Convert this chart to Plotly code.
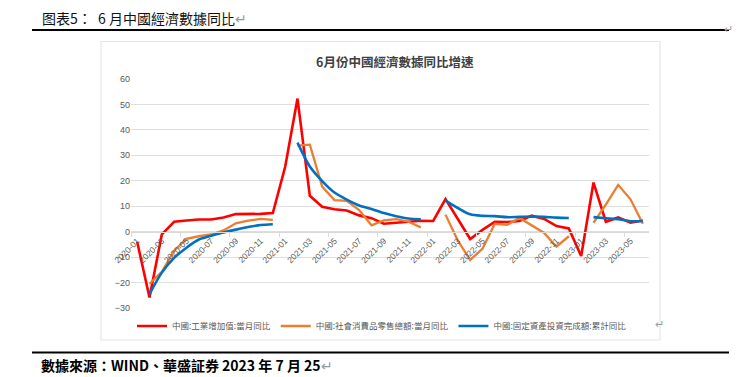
import plotly.graph_objects as go

# ---------------- data ----------------
months = [f"{y}-{m:02d}" for y in (2020, 2021, 2022) for m in range(1, 13)] + \
         [f"2023-{m:02d}" for m in range(1, 7)]

industrial = [-4.0, -25.9, -1.1, 3.9, 4.4, 4.8, 4.8, 5.6, 6.9, 6.9, 7.0, 7.3,
              25.5, 52.3, 14.1, 9.8, 8.8, 8.3, 6.4, 5.3, 3.1, 3.5, 3.8, 4.3,
              4.2, 12.8, 5.0, -2.9, 0.7, 3.9, 3.8, 4.2, 6.3, 5.0, 2.2, 1.3,
              -9.6, 19.3, 3.9, 5.6, 3.5, 4.4]

retail = [None, -20.5, -15.8, -7.5, -2.8, -1.8, -1.1, 0.5, 3.3, 4.3, 5.0, 4.6,
          None, 33.8, 34.2, 17.7, 12.4, 12.1, 8.5, 2.5, 4.4, 4.9, 3.9, 1.7,
          None, 6.7, -3.5, -11.1, -6.7, 3.1, 2.7, 5.4, 2.5, -0.5, -5.9, -1.8,
          None, 3.5, 10.6, 18.4, 12.7, 3.1]

fai = [None, -24.5, -16.1, -10.3, -6.3, -3.1, -1.6, -0.3, 0.8, 1.8, 2.6, 2.9,
       None, 35.0, 25.6, 19.9, 15.4, 12.6, 10.3, 8.9, 7.3, 6.1, 5.2, 4.9,
       None, 12.2, 9.3, 6.8, 6.2, 6.1, 5.7, 5.8, 5.9, 5.8, 5.5, 5.4,
       None, 5.7, 5.3, 4.9, 4.1, 4.2]

series_names = ["中國:工業增加值:當月同比",
                "中國:社會消費品零售總額:當月同比",
                "中國:固定資產投資完成額:累計同比"]
tick_labels = months[::2]
y_ticks = list(range(-30, 61, 10))

# category positions (index of each month on the category axis)
idx = list(range(len(months)))

# ---------------- layout helpers ----------------
W, H = 750, 377
L, R, T, B = 131, 649, 79, 308
PW, PH = R - L, B - T


def px(x):
    return (x - L) / PW


def py(y):
    return (B - y) / PH


CJK = "Noto Sans CJK TC"
GREY = "#595959"

fig = go.Figure()
fig.add_trace(go.Scatter(x=idx, y=industrial, name=series_names[0], mode="lines",
                         line=dict(color="#FF0000", width=2.6), connectgaps=False,
                         text=months, hovertemplate="%{text}: %{y}<extra></extra>"))
fig.add_trace(go.Scatter(x=idx, y=retail, name=series_names[1], mode="lines",
                         line=dict(color="#ED7D31", width=2.3), connectgaps=False,
                         text=months, hovertemplate="%{text}: %{y}<extra></extra>"))
fig.add_trace(go.Scatter(x=idx, y=fai, name=series_names[2], mode="lines",
                         line=dict(color="#0070C0", width=2.6, shape="spline", smoothing=0.8),
                         connectgaps=False,
                         text=months, hovertemplate="%{text}: %{y}<extra></extra>"))

shapes = [
    # chart frame
    dict(type="rect", xref="paper", yref="paper", x0=px(101), x1=px(660), y0=py(41.5), y1=py(340),
         line=dict(color="#e6e6e6", width=1.2), fillcolor="rgba(0,0,0,0)", layer="below"),
    # document title underline
    dict(type="line", xref="paper", yref="paper", x0=px(32), x1=px(729), y0=py(30), y1=py(30),
         line=dict(color="#000000", width=2)),
    # footer line
    dict(type="line", xref="paper", yref="paper", x0=px(32), x1=px(729), y0=py(352.5), y1=py(352.5),
         line=dict(color="#000000", width=2)),
]

annotations = [
    dict(text="<b>6月份中國經濟數據同比增速</b>", xref="paper", yref="paper", x=px(395), y=py(61),
         showarrow=False, font=dict(family=CJK, size=12.5, color="#404040"), xanchor="center",
         yanchor="middle"),
    dict(text="图表5：  6 月中國經濟數據同比<span style='color:#9a9a9a'>↵</span>",
         xref="paper", yref="paper", x=px(40), y=py(18), showarrow=False, xanchor="left",
         yanchor="middle", font=dict(family=CJK, size=14, color="#111111")),
    dict(text="↵", xref="paper", yref="paper", x=px(735), y=py(18), showarrow=False,
         font=dict(family=CJK, size=11, color="#9a9a9a")),
    dict(text="↵", xref="paper", yref="paper", x=px(666), y=py(333), showarrow=False,
         font=dict(family=CJK, size=11, color="#9a9a9a")),
    dict(text="<b>數據來源：WIND、華盛証券 2023 年 7 月 25</b><span style='color:#9a9a9a'>↵</span>",
         xref="paper", yref="paper", x=px(39), y=py(365), showarrow=False, xanchor="left",
         yanchor="middle", font=dict(family=CJK, size=14, color="#000000")),
]

fig.update_layout(
    width=W, height=H,
    margin=dict(l=L, r=W - R, t=T, b=H - B, pad=0),
    paper_bgcolor="white", plot_bgcolor="white",
    showlegend=True,
    legend=dict(orientation="h", x=px(382), y=py(326), xanchor="center", yanchor="middle",
                font=dict(family=CJK, size=8.5, color=GREY), itemwidth=30,
                tracegroupgap=0, bgcolor="rgba(0,0,0,0)"),
    xaxis=dict(type="linear", range=[-0.5, len(months) - 0.5],
               tickvals=idx[::2], ticktext=tick_labels,
               tickangle=-45, tickfont=dict(family="Liberation Sans", size=8.5, color=GREY),
               showgrid=False, zeroline=False, showline=True, linecolor="#d9d9d9", linewidth=1,
               ticks="", anchor="free", position=30 / 90,
               minor=dict(tickvals=[i - 0.5 for i in range(0, len(months) + 1, 4)],
                          ticks="outside", ticklen=4, tickcolor="#d9d9d9", showgrid=False)),
    yaxis=dict(range=[-30, 60], tickvals=y_ticks, showgrid=True, gridcolor="#dedede", gridwidth=1,
               zeroline=False, showline=False, ticks="",
               tickfont=dict(family="Liberation Sans", size=9, color=GREY)),
    shapes=shapes,
    annotations=annotations,
)

fig.write_html("out.html", post_script="document.body.style.margin='0';",
               config={"displayModeBar": False})
